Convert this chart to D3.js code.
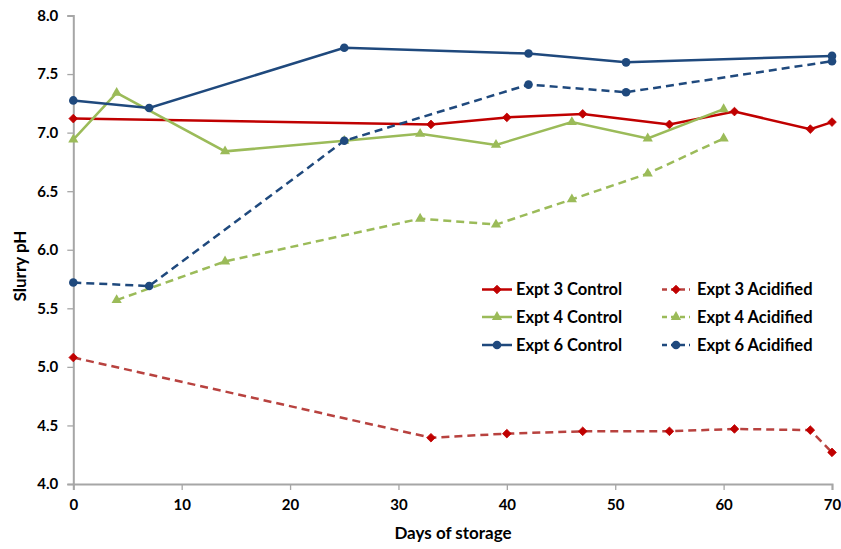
<!DOCTYPE html>
<html>
<head>
<meta charset="utf-8">
<script src="https://cdn.jsdelivr.net/npm/d3@7"></script>
<style>
  body { margin: 0; background: #fff; }
  svg text { font-family: Lato, "Open Sans", sans-serif; font-weight: bold; fill: #000; }
</style>
</head>
<body>
<svg id="chart"></svg>
<script>
// days and pH
const expt3Days = [0, 33, 40, 47, 55, 61, 68, 70];
const expt3Control = [7.12, 7.07, 7.13, 7.16, 7.07, 7.18, 7.03, 7.09];
const expt3Acidified = [5.08, 4.395, 4.43, 4.45, 4.45, 4.47, 4.46, 4.27];

const expt4Days = [0, 4, 14, 25, 32, 39, 46, 53, 60];
const expt4Control = [6.94, 7.34, 6.84, 6.93, 6.99, 6.895, 7.09, 6.95, 7.20];
const expt4AcidDays = [4, 14, 32, 39, 46, 53, 60];
const expt4Acidified = [5.57, 5.90, 6.265, 6.215, 6.43, 6.65, 6.95];

const expt6Days = [0, 7, 25, 42, 51, 70];
const expt6Control = [7.275, 7.21, 7.725, 7.675, 7.60, 7.655];
const expt6Acidified = [5.72, 5.69, 6.93, 7.41, 7.345, 7.61];

const xTicks = [0, 10, 20, 30, 40, 50, 60, 70];
const yTicks = [4.0, 4.5, 5.0, 5.5, 6.0, 6.5, 7.0, 7.5, 8.0];

const series = [
    {name: "Expt 3 Control", days: expt3Days, vals: expt3Control, color: "#C00000", marker: "#C00000", dash: null, shape: "diamond"},
    {name: "Expt 3 Acidified", days: expt3Days, vals: expt3Acidified, color: "#B8423F", marker: "#C00000", dash: "8,5", shape: "diamond"},
    {name: "Expt 4 Control", days: expt4Days, vals: expt4Control, color: "#9BBB59", marker: "#9BBB59", dash: null, shape: "triangle"},
    {name: "Expt 4 Acidified", days: expt4AcidDays, vals: expt4Acidified, color: "#9BBB59", marker: "#9BBB59", dash: "8,5", shape: "triangle"},
    {name: "Expt 6 Control", days: expt6Days, vals: expt6Control, color: "#1F497D", marker: "#1F497D", dash: null, shape: "circle"},
    {name: "Expt 6 Acidified", days: expt6Days, vals: expt6Acidified, color: "#1F497D", marker: "#1F497D", dash: "8,5", shape: "circle"}
];

const W = 841, H = 549;
const margin = {top: 15.5, right: 9, bottom: 65, left: 73.3};
const width = W - margin.left - margin.right;
const height = H - margin.top - margin.bottom;

const svg = d3.select("#chart").attr("width", W).attr("height", H);
const g = svg.append("g").attr("transform", "translate(" + margin.left + "," + margin.top + ")");

const x = d3.scaleLinear().domain([0, 70]).range([0, width]);
const y = d3.scaleLinear().domain([4, 8]).range([height, 0]);

const axisColor = "#A6A6A6";

// y axis
const yAxis = g.append("g")
    .call(d3.axisLeft(y).tickValues(yTicks).tickFormat(d3.format(".1f")).tickSize(6).tickPadding(9));
yAxis.select(".domain").attr("stroke", axisColor).attr("stroke-width", 2);
yAxis.selectAll(".tick line").attr("stroke", axisColor).attr("stroke-width", 1.3);
yAxis.selectAll(".tick text").style("font-size", "15px");

// x axis
const xAxis = g.append("g")
    .attr("transform", "translate(0," + height + ")")
    .call(d3.axisBottom(x).tickValues(xTicks).tickSize(6).tickPadding(9));
xAxis.select(".domain").attr("stroke", axisColor).attr("stroke-width", 2);
xAxis.selectAll(".tick line").attr("stroke", axisColor).attr("stroke-width", 1.3);
xAxis.selectAll(".tick text").style("font-size", "15px");

// axis titles
svg.append("text")
    .attr("x", 453).attr("y", 539)
    .attr("text-anchor", "middle")
    .style("font-size", "17px")
    .text("Days of storage");

svg.append("text")
    .attr("transform", "translate(26,266) rotate(-90)")
    .attr("text-anchor", "middle")
    .style("font-size", "17px")
    .text("Slurry pH");

function drawMarker(sel, shape, color) {
    if (shape === "circle") {
        sel.append("circle").attr("r", 4.3).attr("fill", color);
    } else if (shape === "diamond") {
        sel.append("path").attr("d", d3.symbol().type(d3.symbolDiamond2).size(48)).attr("fill", color).attr("stroke", color).attr("stroke-width", 0.8);
    } else {
        sel.append("path").attr("d", d3.symbol().type(d3.symbolTriangle).size(45)).attr("fill", color);
    }
}

const line = d3.line().x(d => x(d[0])).y(d => y(d[1]));

series.forEach(s => {
    const pts = s.days.map((d, i) => [d, s.vals[i]]);
    g.append("path")
        .datum(pts)
        .attr("fill", "none")
        .attr("stroke", s.color)
        .attr("stroke-width", 2.5)
        .attr("stroke-dasharray", s.dash)
        .attr("d", line);
    g.selectAll(null)
        .data(pts)
        .enter()
        .append("g")
        .attr("transform", d => "translate(" + x(d[0]) + "," + y(d[1]) + ")")
        .each(function () { drawMarker(d3.select(this), s.shape, s.marker); });
});

// legend
const legCols = [482, 662];
const legRows = [289.5, 317, 345];
series.forEach((s, i) => {
    const lx = legCols[i % 2];
    const ly = legRows[Math.floor(i / 2)];
    const lg = svg.append("g").attr("transform", "translate(" + lx + "," + ly + ")");
    lg.append("line")
        .attr("x1", 0).attr("x2", s.dash ? 28 : 30)
        .attr("y1", 0).attr("y2", 0)
        .attr("stroke", s.color)
        .attr("stroke-width", 2.5)
        .attr("stroke-dasharray", s.dash ? "5,4" : null);
    drawMarker(lg.append("g").attr("transform", "translate(" + (s.dash ? 14 : 15) + ",0)"), s.shape, s.marker);
    lg.append("text")
        .attr("x", s.dash ? 35 : 34)
        .attr("y", 0)
        .attr("dy", "0.35em")
        .style("font-size", "16.5px")
        .text(s.name);
});
</script>
</body>
</html>
